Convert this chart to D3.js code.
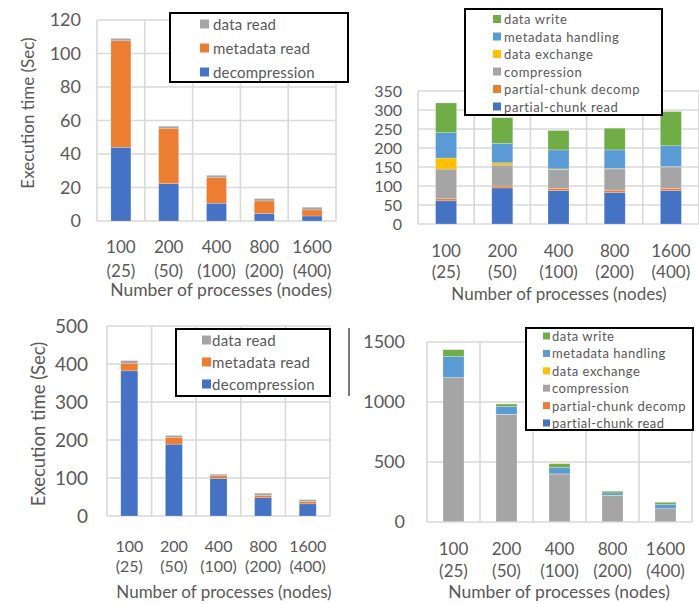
<!DOCTYPE html>
<html>
<head>
<meta charset="utf-8">
<script src="https://cdn.jsdelivr.net/npm/d3@7"></script>
<style>
  html, body { margin: 0; padding: 0; background: #fff; }
  svg { display: block; font-family: Lato, "Open Sans", sans-serif; }
</style>
</head>
<body>
<svg id="chart" width="699" height="604"></svg>
<script>
// ---------------- DATA ----------------
const categories = ["100", "200", "400", "800", "1600"];
const nodeLabels = ["(25)", "(50)", "(100)", "(200)", "(400)"];

// Panel A (top-left) read workflow
const readSeries = ["decompression", "metadata read", "data read"];
const aDecompression = [44, 22.3, 10.6, 4.4, 3];
const aMetadataRead  = [63.6, 33.1, 15.3, 7.6, 3.6];
const aDataRead      = [1.4, 1.2, 1.4, 1.4, 1.6];
const aTicks = [0, 20, 40, 60, 80, 100, 120];

// Panel B (top-right) write workflow
const writeSeries = ["partial-chunk read", "partial-chunk decomp", "compression", "data exchange", "metadata handling", "data write"];
const bChunkRead   = [61, 95, 88, 83, 88];
const bChunkDecomp = [5.5, 5, 6, 6, 6];
const bCompression = [78, 55, 50, 56, 56];
const bExchange    = [29, 6, 1, 1, 1];
const bMetadata    = [67, 51, 50, 49, 55];
const bDataWrite   = [78, 68, 51, 57, 90];
const bTicks = [0, 50, 100, 150, 200, 250, 300, 350];

// Panel C (bottom-left) read workflow
const cDecompression = [382, 189, 99, 48, 32];
const cMetadataRead  = [20, 18, 7, 6, 6];
const cDataRead      = [7, 5, 4, 6, 5];
const cTicks = [0, 100, 200, 300, 400, 500];

// Panel D (bottom-right) write workflow
const dChunkRead   = [3, 2, 2, 2, 2];
const dChunkDecomp = [2, 1, 1, 1, 1];
const dCompression = [1198, 894, 397, 219, 107];
const dExchange    = [1, 1, 1, 1, 1];
const dMetadata    = [177, 66, 52, 19, 36];
const dDataWrite   = [55, 19, 33, 14, 17];
const dTicks = [0, 500, 1000, 1500];

const readColors  = ["#4472C4", "#ED7D31", "#A5A5A5"];
const writeColors = ["#4472C4", "#ED7D31", "#A5A5A5", "#FFC000", "#5B9BD5", "#70AD47"];

// ---------------- DRAW ----------------
const svg = d3.select("#chart");
const textColor = "#595959";
const gridColor = "#D9D9D9";

function buildRows(seriesNames, arrays) {
  return categories.map((c, i) => {
    const row = { cat: c };
    seriesNames.forEach((s, j) => row[s] = arrays[j][i]);
    return row;
  });
}

function drawPanel(cfg) {
  const g = svg.append("g");
  const x = d3.scaleBand().domain(categories).range([cfg.x0, cfg.x1]);
  const y = d3.scaleLinear().domain([0, cfg.ticks[cfg.ticks.length - 1]]).range([cfg.y0, cfg.y1]);

  // grid: horizontal
  g.append("g").selectAll("line").data(cfg.ticks).join("line")
    .attr("x1", cfg.x0).attr("x2", cfg.x1)
    .attr("y1", d => y(d)).attr("y2", d => y(d))
    .attr("stroke", gridColor).attr("stroke-width", 1.6);
  // grid: vertical at band edges
  const edges = categories.map(c => x(c)).concat([cfg.x1]);
  g.append("g").selectAll("line").data(edges).join("line")
    .attr("x1", d => d).attr("x2", d => d)
    .attr("y1", y(cfg.ticks[cfg.ticks.length - 1])).attr("y2", y(0))
    .attr("stroke", gridColor).attr("stroke-width", 1.6);

  // y axis labels via d3 axis
  const yAxis = d3.axisLeft(y).tickValues(cfg.ticks).tickSize(0).tickPadding(0).tickFormat(d3.format("d"));
  const ya = g.append("g").attr("transform", `translate(${cfg.yLabelX},0)`).call(yAxis);
  ya.select(".domain").remove();
  ya.selectAll("text").attr("fill", textColor).style("font-size", cfg.yFont + "px")
    .style("font-family", "Lato, 'Open Sans', sans-serif");

  // stacked bars
  const rows = buildRows(cfg.series, cfg.values);
  const stack = d3.stack().keys(cfg.series)(rows);
  const bw = cfg.barW;
  g.append("g").selectAll("g").data(stack).join("g")
    .attr("fill", (d, i) => cfg.colors[i])
    .selectAll("rect").data(d => d).join("rect")
    .attr("x", d => x(d.data.cat) + (x.bandwidth() - bw) / 2)
    .attr("width", bw)
    .attr("y", d => y(d[1]))
    .attr("height", d => Math.max(0, y(d[0]) - y(d[1])))
    .attr("stroke", "rgba(255,255,255,0.35)").attr("stroke-width", 0.6);

  // x labels
  const xl = g.append("g");
  categories.forEach((c, i) => {
    const cx = x(c) + x.bandwidth() / 2;
    xl.append("text").attr("x", cx).attr("y", cfg.xl1).attr("text-anchor", "middle")
      .attr("fill", textColor).style("font-size", cfg.xFont + "px").text(c);
    xl.append("text").attr("x", cx).attr("y", cfg.xl2).attr("text-anchor", "middle")
      .attr("fill", textColor).style("font-size", cfg.xFont + "px").text(nodeLabels[i]);
  });
  g.append("text").attr("x", cfg.titleX).attr("y", cfg.titleY).attr("text-anchor", "middle")
    .attr("fill", textColor).style("font-size", cfg.titleFont + "px").text("Number of processes (nodes)");

  if (cfg.yTitle) {
    g.append("text").attr("transform", `translate(${cfg.yTitleX},${cfg.yTitleY}) rotate(-90)`)
      .attr("text-anchor", "middle").attr("dominant-baseline", "middle")
      .attr("fill", textColor).style("font-size", cfg.yTitleFont + "px").text("Execution time (Sec)");
  }

  // legend
  const L = cfg.legend;
  g.append("rect").attr("x", L.x).attr("y", L.y).attr("width", L.w).attr("height", L.h)
    .attr("fill", "#fff").attr("stroke", "#000").attr("stroke-width", 2);
  const order = cfg.series.map((s, i) => i).reverse();
  order.forEach((si, k) => {
    const cy = L.firstY + k * L.step;
    g.append("rect").attr("x", L.sqX).attr("y", cy - L.sq / 2).attr("width", L.sq).attr("height", L.sq)
      .attr("fill", cfg.colors[si]);
    g.append("text").attr("x", L.textX).attr("y", cy).attr("dominant-baseline", "central")
      .attr("fill", textColor).style("font-size", L.font + "px")
      .style("letter-spacing", L.ls + "px").text(cfg.series[si]);
  });
}

drawPanel({
  x0: 97, x1: 336, y0: 221, y1: 20, ticks: aTicks, barW: 20,
  series: readSeries, values: [aDecompression, aMetadataRead, aDataRead], colors: readColors,
  yLabelX: 81, yFont: 18, xl1: 253, xl2: 277, xFont: 17, titleX: 221, titleY: 296, titleFont: 17.5,
  yTitle: true, yTitleX: 30, yTitleY: 113, yTitleFont: 17,
  legend: { x: 170, y: 13, w: 178, h: 69, firstY: 24, step: 24, sqX: 200, sq: 9, textX: 213, font: 15, ls: 0.2 }
});

drawPanel({
  x0: 418, x1: 699, y0: 224, y1: 91, ticks: bTicks, barW: 21,
  series: writeSeries, values: [bChunkRead, bChunkDecomp, bCompression, bExchange, bMetadata, bDataWrite], colors: writeColors,
  yLabelX: 402, yFont: 16, xl1: 257, xl2: 278, xFont: 17, titleX: 559, titleY: 300, titleFont: 17,
  yTitle: false,
  legend: { x: 465, y: 9, w: 197, h: 106, firstY: 19, step: 17.5, sqX: 493, sq: 8, textX: 504, font: 13, ls: 0.6 }
});

drawPanel({
  x0: 107, x1: 330, y0: 516, y1: 326, ticks: cTicks, barW: 17,
  series: readSeries, values: [cDecompression, cMetadataRead, cDataRead], colors: readColors,
  yLabelX: 88, yFont: 19, xl1: 552, xl2: 572, xFont: 16, titleX: 224, titleY: 598, titleFont: 17,
  yTitle: true, yTitleX: 40, yTitleY: 424, yTitleFont: 18.5,
  legend: { x: 176, y: 329, w: 154, h: 67, firstY: 340, step: 22, sqX: 202, sq: 9, textX: 212, font: 15, ls: 0.3 }
});

drawPanel({
  x0: 427, x1: 692, y0: 522, y1: 342, ticks: dTicks, barW: 21,
  series: writeSeries, values: [dChunkRead, dChunkDecomp, dCompression, dExchange, dMetadata, dDataWrite], colors: writeColors,
  yLabelX: 405, yFont: 18, xl1: 555, xl2: 577, xFont: 17, titleX: 559, titleY: 598, titleFont: 17.5,
  yTitle: false,
  legend: { x: 526, y: 328, w: 167, h: 102, firstY: 336, step: 17.4, sqX: 543, sq: 7, textX: 552, font: 13, ls: 0.5 }
});

// stray frame edge visible left of bottom-right panel
svg.append("line").attr("x1", 349).attr("x2", 349).attr("y1", 328).attr("y2", 396)
  .attr("stroke", "#222").attr("stroke-width", 1.2);
</script>
</body>
</html>
